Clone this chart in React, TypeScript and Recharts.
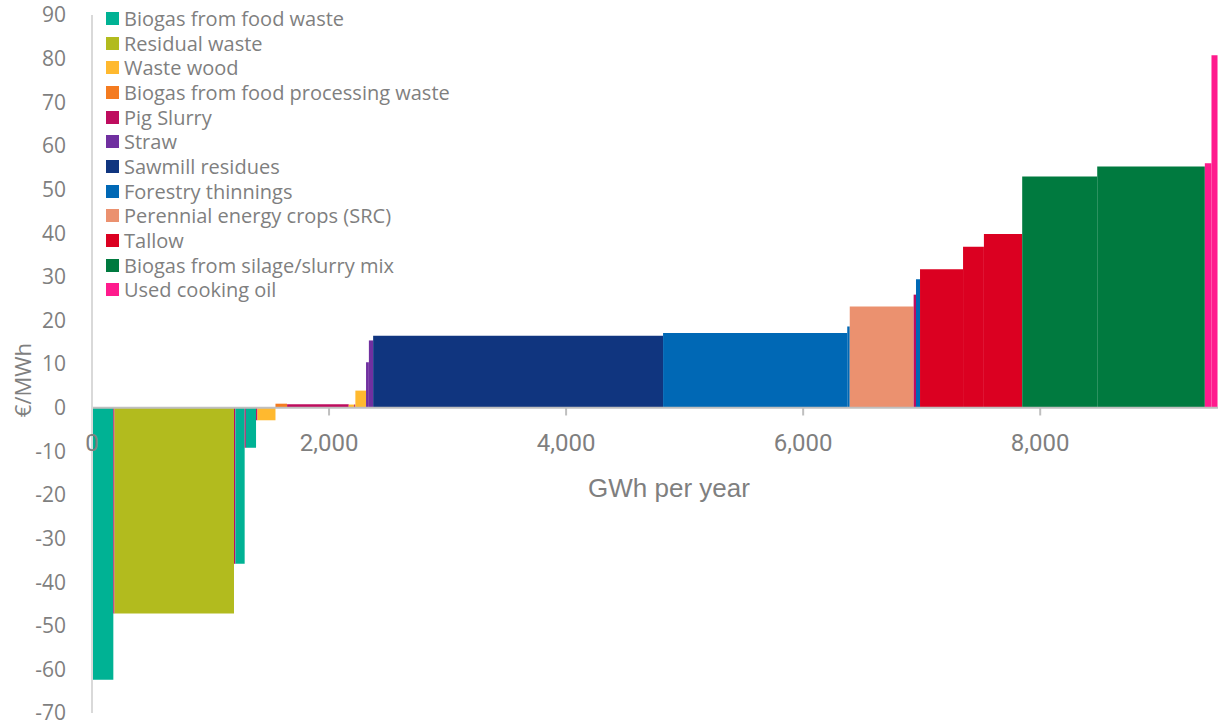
import React from "react";
import {
  ComposedChart,
  Line,
  XAxis,
  YAxis,
  ReferenceArea,
  ReferenceLine,
} from "recharts";

// feedstocks, in the order of the legend
const seriesNames = [
  "Biogas from food waste",
  "Residual waste",
  "Waste wood",
  "Biogas from food processing waste",
  "Pig Slurry",
  "Straw",
  "Sawmill residues",
  "Forestry thinnings",
  "Perennial energy crops (SRC)",
  "Tallow",
  "Biogas from silage/slurry mix",
  "Used cooking oil",
];

const seriesColors = [
  "#00B294",
  "#B2BB1E",
  "#FFB92F",
  "#F47B20",
  "#BE0C5E",
  "#7030A0",
  "#10357F",
  "#0068B5",
  "#EB916F",
  "#DB0021",
  "#007A3F",
  "#FF1B8D",
];

// cost curve steps, left to right
const stepSeries = [0, 4, 1, 4, 0, 4, 0, 4, 2, 3, 4, 2, 4, 2, 5, 5, 6, 7, 7, 8, 4, 7, 9, 9, 9, 10, 10, 11, 11];
// potential of each step (GWh per year)
const stepWidth = [180, 10, 1008, 12, 78, 10, 86, 12, 152, 98, 520, 46, 10, 90, 24, 36, 2446, 1554, 21, 539, 20, 34, 363, 176, 323, 633, 908, 56, 51];
// cost of each step (€/MWh)
const stepCost = [-62.4, -47.2, -47.2, -35.8, -35.8, -9.2, -9.2, -2.9, -2.9, 0.9, 0.8, 0.7, 0.7, 3.9, 10.4, 15.4, 16.5, 17.1, 18.6, 23.2, 25.9, 29.4, 31.7, 36.9, 39.8, 53.0, 55.3, 56.0, 80.8];

const xTicks = [0, 2000, 4000, 6000, 8000];
const yTicks = [-70, -60, -50, -40, -30, -20, -10, 0, 10, 20, 30, 40, 50, 60, 70, 80, 90];

const grey = "#7f7f7f";

const steps = stepWidth.map((w, i) => {
  const start = stepWidth.slice(0, i).reduce((a, b) => a + b, 0);
  return { x: start, end: start + w, cost: stepCost[i], color: seriesColors[stepSeries[i]] };
});

const App = () => {
  return (
    <div style={{ position: "absolute", left: 0, top: 0, width: 1218, height: 726, background: "#fff" }}>
      <ComposedChart width={1218} height={726} data={steps} margin={{ top: 15, right: 0, bottom: 13, left: 0 }}>
        <XAxis type="number" dataKey="x" domain={[0, 9500]} allowDataOverflow hide />
        <YAxis
          type="number"
          domain={[-70, 90]}
          allowDataOverflow
          ticks={yTicks}
          interval={0}
          width={92}
          axisLine={{ stroke: "#d9d9d9", strokeWidth: 2 }}
          tickLine={false}
          tickMargin={20}
          tick={{ fill: grey, fontSize: 21, fontFamily: "Open Sans" }}
          label={{
            content: (props: any) => {
              const vb = props.viewBox || { x: 0, y: 0, height: 0 };
              const cx = vb.x + 22;
              const cy = vb.y + vb.height / 2 + 16;
              return (
                <text
                  x={cx}
                  y={cy}
                  transform={`rotate(-90 ${cx} ${cy})`}
                  textAnchor="middle"
                  dominantBaseline="central"
                  fill={grey}
                  fontSize={22}
                  fontFamily="Open Sans"
                >
                  €/MWh
                </text>
              );
            },
          }}
        />
        {steps.map((s, i) => (
          <ReferenceArea
            key={i}
            x1={s.x}
            x2={s.end}
            y1={0}
            y2={s.cost}
            fill={s.color}
            fillOpacity={1}
            stroke="none"
            ifOverflow="visible"
          />
        ))}
        <Line dataKey="cost" stroke="none" dot={false} activeDot={false} legendType="none" isAnimationActive={false} />
        <ReferenceLine y={0} stroke="#bfbfbf" strokeWidth={2} />
        {xTicks.map((t) => (
          <ReferenceLine
            key={t}
            segment={[
              { x: t, y: 0 },
              { x: t, y: -1.8 },
            ]}
            stroke="#bfbfbf"
            strokeWidth={2}
            ifOverflow="visible"
            label={{
              value: t.toLocaleString("en-US"),
              position: "bottom",
              offset: 18,
              fill: grey,
              fontSize: 24,
              fontFamily: "Roboto",
            }}
          />
        ))}
      </ComposedChart>
      <div
        style={{
          position: "absolute",
          left: 569,
          width: 200,
          top: 473,
          textAlign: "center",
          color: grey,
          fontSize: 26,
          lineHeight: "30px",
          fontFamily: "Liberation Sans",
        }}
      >
        GWh per year
      </div>
      <div style={{ position: "absolute", left: 106, top: 6, fontFamily: "Open Sans", fontSize: 20, color: grey }}>
        {seriesNames.map((n, i) => (
          <div key={n} style={{ display: "flex", alignItems: "center", height: 24.7, whiteSpace: "nowrap" }}>
            <span style={{ width: 13, height: 13, background: seriesColors[i], marginRight: 5, flex: "none" }} />
            {n}
          </div>
        ))}
      </div>
    </div>
  );
};

export default App;
